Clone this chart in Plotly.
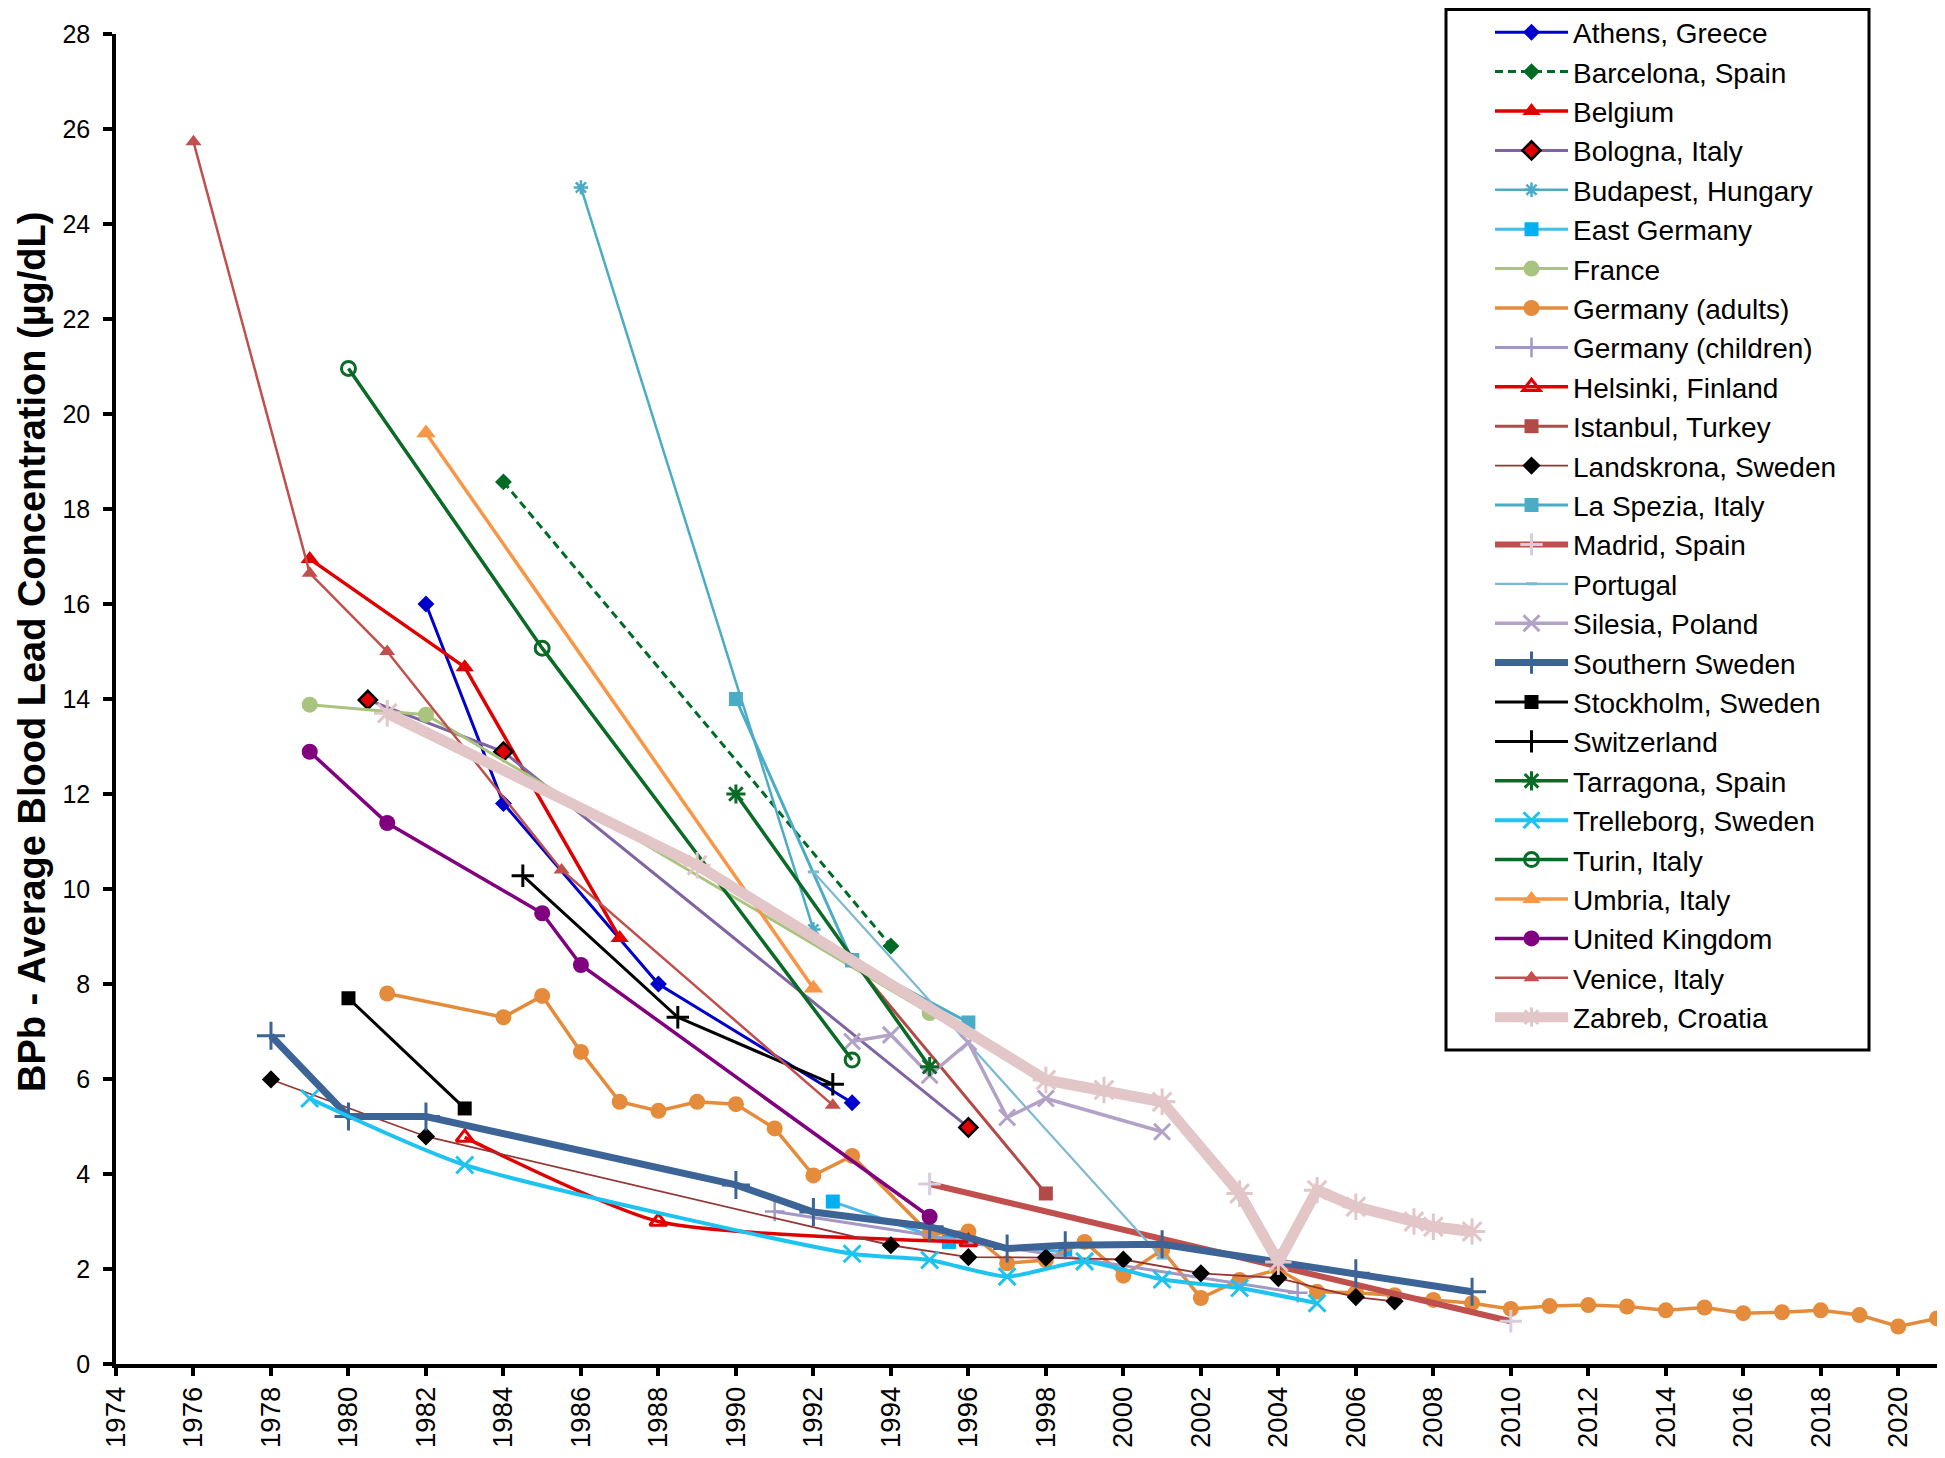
import plotly.graph_objects as go

# ---------------- data (year, BPb in ug/dL) ----------------
athens_years = [1982, 1984, 1988, 1993]
athens_bpb = [16.0, 11.8, 8.0, 5.5]
barcelona_years = [1984, 1994]
barcelona_bpb = [18.57, 8.8]
belgium_years = [1979, 1983, 1987]
belgium_bpb = [16.95, 14.67, 8.97]
bologna_years = [1980.5, 1984, 1996]
bologna_bpb = [13.98, 12.89, 4.98]
budapest_years = [1986, 1992]
budapest_bpb = [24.77, 9.15]
eastgermany_years = [1992.5, 1995.5, 1998.5]
eastgermany_bpb = [3.42, 2.57, 2.36]
france_years = [1979, 1982, 1995]
france_bpb = [13.88, 13.67, 7.39]
gerad_years = [1981, 1984, 1985, 1986, 1987, 1988, 1989, 1990, 1991, 1992, 1993,
               1995, 1996, 1997, 1998, 1999, 2000, 2001, 2002, 2003, 2004, 2005,
               2006, 2007, 2008, 2009, 2010, 2011, 2012, 2013, 2014, 2015, 2016,
               2017, 2018, 2019, 2020, 2021]
gerad_bpb = [7.8, 7.3, 7.75, 6.57, 5.52, 5.33, 5.52, 5.47, 4.96, 3.97, 4.38,
             2.74, 2.79, 2.12, 2.19, 2.57, 1.86, 2.4, 1.39, 1.77, 1.99, 1.52,
             1.5, 1.45, 1.35, 1.28, 1.16, 1.22, 1.24, 1.21, 1.13, 1.19, 1.07,
             1.09, 1.13, 1.03, 0.79, 0.96]
gerch_years = [1991, 2004.5]
gerch_bpb = [3.21, 1.5]
helsinki_years = [1983, 1988, 1996]
helsinki_bpb = [4.77, 3.0, 2.57]
istanbul_years = [1993, 1998]
istanbul_bpb = [8.5, 3.59]
landskrona_years = [1978, 1982, 1994, 1996, 1998, 2000, 2002, 2004, 2006, 2007]
landskrona_bpb = [5.99, 4.79, 2.5, 2.25, 2.24, 2.2, 1.91, 1.81, 1.41, 1.32]
laspezia_years = [1990, 1993, 1996]
laspezia_bpb = [14.0, 8.5, 7.19]
madrid_years = [1995, 2010]
madrid_bpb = [3.79, 0.9]
portugal_years = [1992, 2001]
portugal_bpb = [10.36, 2.23]
silesia_years = [1993, 1994, 1995, 1996, 1997, 1998, 2001]
silesia_bpb = [6.79, 6.93, 6.08, 6.77, 5.19, 5.59, 4.89]
ssweden_years = [1978, 1980, 1982, 1990, 1992, 1995, 1997, 1998.5, 2001, 2006, 2009]
ssweden_bpb = [6.91, 5.21, 5.21, 3.77, 3.2, 2.89, 2.43, 2.5, 2.52, 1.91, 1.52]
stockholm_years = [1980, 1983]
stockholm_bpb = [7.7, 5.38]
switzerland_years = [1984.5, 1988.5, 1992.5]
switzerland_bpb = [10.28, 7.3, 5.89]
tarragona_years = [1990, 1995]
tarragona_bpb = [12.0, 6.26]
trelleborg_years = [1979, 1983, 1993, 1995, 1997, 1999, 2001, 2003, 2005]
trelleborg_bpb = [5.59, 4.19, 2.32, 2.19, 1.84, 2.16, 1.78, 1.6, 1.28]
turin_years = [1980, 1985, 1993]
turin_bpb = [20.96, 15.07, 6.4]
umbria_years = [1982, 1992]
umbria_bpb = [19.6, 7.91]
uk_years = [1979, 1981, 1985, 1986, 1995]
uk_bpb = [12.89, 11.39, 9.49, 8.4, 3.1]
venice_years = [1976, 1979, 1981, 1985.5, 1992.5]
venice_bpb = [25.73, 16.65, 15.0, 10.4, 5.45]
zagreb_years = [1981, 1989, 1998, 1999.5, 2001, 2003, 2004, 2005, 2006, 2007.5, 2008, 2009]
zagreb_bpb = [13.7, 10.5, 5.98, 5.77, 5.52, 3.59, 2.15, 3.66, 3.31, 3.0, 2.89, 2.79]

x_ticks = list(range(1974, 2021, 2))
y_ticks = list(range(0, 29, 2))


# ---------------- styles ----------------
def mk(symbol, size, color, lw=0, lc=None):
    return dict(symbol=symbol, size=size, color=color,
                line=dict(color=lc if lc else color, width=lw))


series = [
    ("Athens, Greece", athens_years, athens_bpb,
     dict(color="#0000CC", width=3), mk("diamond", 13, "#0000CC")),
    ("Barcelona, Spain", barcelona_years, barcelona_bpb,
     dict(color="#006B24", width=3, dash="8px,5px"), mk("diamond", 13, "#006B24")),
    ("Belgium", belgium_years, belgium_bpb,
     dict(color="#E00000", width=3.5), mk("triangle-up", 16, "#E00000")),
    ("Bologna, Italy", bologna_years, bologna_bpb,
     dict(color="#8064A2", width=3), mk("diamond", 14, "#E00000", 2.5, "black")),
    ("Budapest, Hungary", budapest_years, budapest_bpb,
     dict(color="#4BACC6", width=2.5), mk("asterisk-open", 12, "#4BACC6", 2.5)),
    ("East Germany", eastgermany_years, eastgermany_bpb,
     dict(color="#4DB8EA", width=3), mk("square", 14, "#00B0F0")),
    ("France", france_years, france_bpb,
     dict(color="#A9C47F", width=3), mk("circle", 16, "#A9C47F")),
    ("Germany (adults)", gerad_years, gerad_bpb,
     dict(color="#E48B3C", width=3.5), mk("circle", 16, "#E48B3C")),
    ("Germany (children)", gerch_years, gerch_bpb,
     dict(color="#A397C4", width=3), mk("cross-thin-open", 14, "#A397C4", 2.5)),
    ("Helsinki, Finland", helsinki_years, helsinki_bpb,
     dict(color="#E00000", width=3.5, shape="spline", smoothing=0.6),
     mk("triangle-up-open", 15, "#E00000", 3)),
    ("Istanbul, Turkey", istanbul_years, istanbul_bpb,
     dict(color="#B24A47", width=3), mk("square", 14, "#B24A47")),
    ("Landskrona, Sweden", landskrona_years, landskrona_bpb,
     dict(color="#943634", width=1.8), mk("diamond", 14, "black")),
    ("La Spezia, Italy", laspezia_years, laspezia_bpb,
     dict(color="#4BACC6", width=3), mk("square", 14, "#4BACC6")),
    ("Madrid, Spain", madrid_years, madrid_bpb,
     dict(color="#C0504D", width=6), mk("cross-thin-open", 16, "#D9CCDE", 3)),
    ("Portugal", portugal_years, portugal_bpb,
     dict(color="#7DB9D0", width=2.2), mk("line-ew-open", 8, "#7DB9D0", 3)),
    ("Silesia, Poland", silesia_years, silesia_bpb,
     dict(color="#B3A2C7", width=3.5), mk("x-thin-open", 16, "#B3A2C7", 3)),
    ("Southern Sweden", ssweden_years, ssweden_bpb,
     dict(color="#3C6496", width=7), mk("cross-thin-open", 20, "#3C6496", 3)),
    ("Stockholm, Sweden", stockholm_years, stockholm_bpb,
     dict(color="black", width=3), mk("square", 14, "black")),
    ("Switzerland", switzerland_years, switzerland_bpb,
     dict(color="black", width=3), mk("cross-thin-open", 16, "black", 3)),
    ("Tarragona, Spain", tarragona_years, tarragona_bpb,
     dict(color="#0A6B26", width=3.5), mk("asterisk-open", 16, "#0A6B26", 3)),
    ("Trelleborg, Sweden", trelleborg_years, trelleborg_bpb,
     dict(color="#1EC3F0", width=4, shape="spline", smoothing=0.6),
     mk("x-thin-open", 17, "#1EC3F0", 3)),
    ("Turin, Italy", turin_years, turin_bpb,
     dict(color="#0A6B26", width=3.5), mk("circle-open", 14, "#0A6B26", 3)),
    ("Umbria, Italy", umbria_years, umbria_bpb,
     dict(color="#F79646", width=3.5), mk("triangle-up", 17, "#F79646")),
    ("United Kingdom", uk_years, uk_bpb,
     dict(color="#800080", width=3.5), mk("circle", 16, "#800080")),
    ("Venice, Italy", venice_years, venice_bpb,
     dict(color="#C0504D", width=2.5), mk("triangle-up", 14, "#C0504D")),
    ("Zabreb, Croatia", zagreb_years, zagreb_bpb,
     dict(color="#E3C6C7", width=11), mk("asterisk-open", 22, "#E3C6C7", 3)),
]

fig = go.Figure()
for i, (name, xs, ys, line, marker) in enumerate(series):
    fig.add_trace(go.Scatter(x=xs, y=ys, name=name, mode="lines+markers",
                             line=line, marker=marker, legendgroup=f"g{i}"))

# page has an 8px body margin: figure coordinates = screen - 8
OFF = 8
W, H = 1945 - 2 * OFF, 1458 - 2 * OFF
L, R, T, B = 116 - OFF, 0, 34 - OFF, H - (1364 - OFF)
pw, ph = W - L - R, H - T - B


def px_x(v):  # screen px -> paper x
    return (v - OFF - L) / pw


def px_y(v):  # screen px -> paper y
    return (H - B - (v - OFF)) / ph


FONT = "Liberation Sans, Arial, sans-serif"

fig.update_layout(
    width=W, height=H,
    margin=dict(l=L, r=R, t=T, b=B, autoexpand=False),
    paper_bgcolor="white", plot_bgcolor="white",
    font=dict(family=FONT, color="black"),
    showlegend=True,
    legend=dict(
        x=px_x(1490), y=px_y(525), xanchor="left", yanchor="middle",
        bgcolor="rgba(0,0,0,0)", borderwidth=0,
        font=dict(family=FONT, size=28, color="black"),
        itemwidth=73, tracegroupgap=7, traceorder="normal",
    ),
    shapes=[dict(type="rect", xref="paper", yref="paper",
                 x0=px_x(1446), x1=px_x(1869), y0=px_y(1050), y1=px_y(OFF + 1.5),
                 line=dict(color="black", width=3), fillcolor="white", layer="above")],
    annotations=[dict(text="<b>BPb - Average Blood Lead Concentration (µg/dL)</b>",
                      xref="paper", yref="paper", x=px_x(32), y=px_y(652),
                      xanchor="center", yanchor="middle", textangle=-90,
                      showarrow=False, font=dict(family=FONT, size=38, color="black"))],
)

fig.update_xaxes(range=[1974, 2021], tickvals=x_ticks, ticktext=[str(v) for v in x_ticks],
                 tickangle=-90, tickfont=dict(family=FONT, size=27.5, color="black"),
                 showline=True, linecolor="black", linewidth=3.5, ticks="outside",
                 ticklen=8, tickwidth=3.5, tickcolor="black", showgrid=False,
                 zeroline=False, ticklabelstandoff=0)
fig.update_yaxes(range=[0, 28], tickvals=y_ticks, ticktext=[str(v) for v in y_ticks],
                 tickfont=dict(family=FONT, size=25, color="black"),
                 showline=True, linecolor="black", linewidth=3.5, ticks="outside",
                 ticklen=9, tickwidth=3.5, tickcolor="black", showgrid=False,
                 zeroline=False, ticklabelstandoff=8)

fig.write_html("out.html")
